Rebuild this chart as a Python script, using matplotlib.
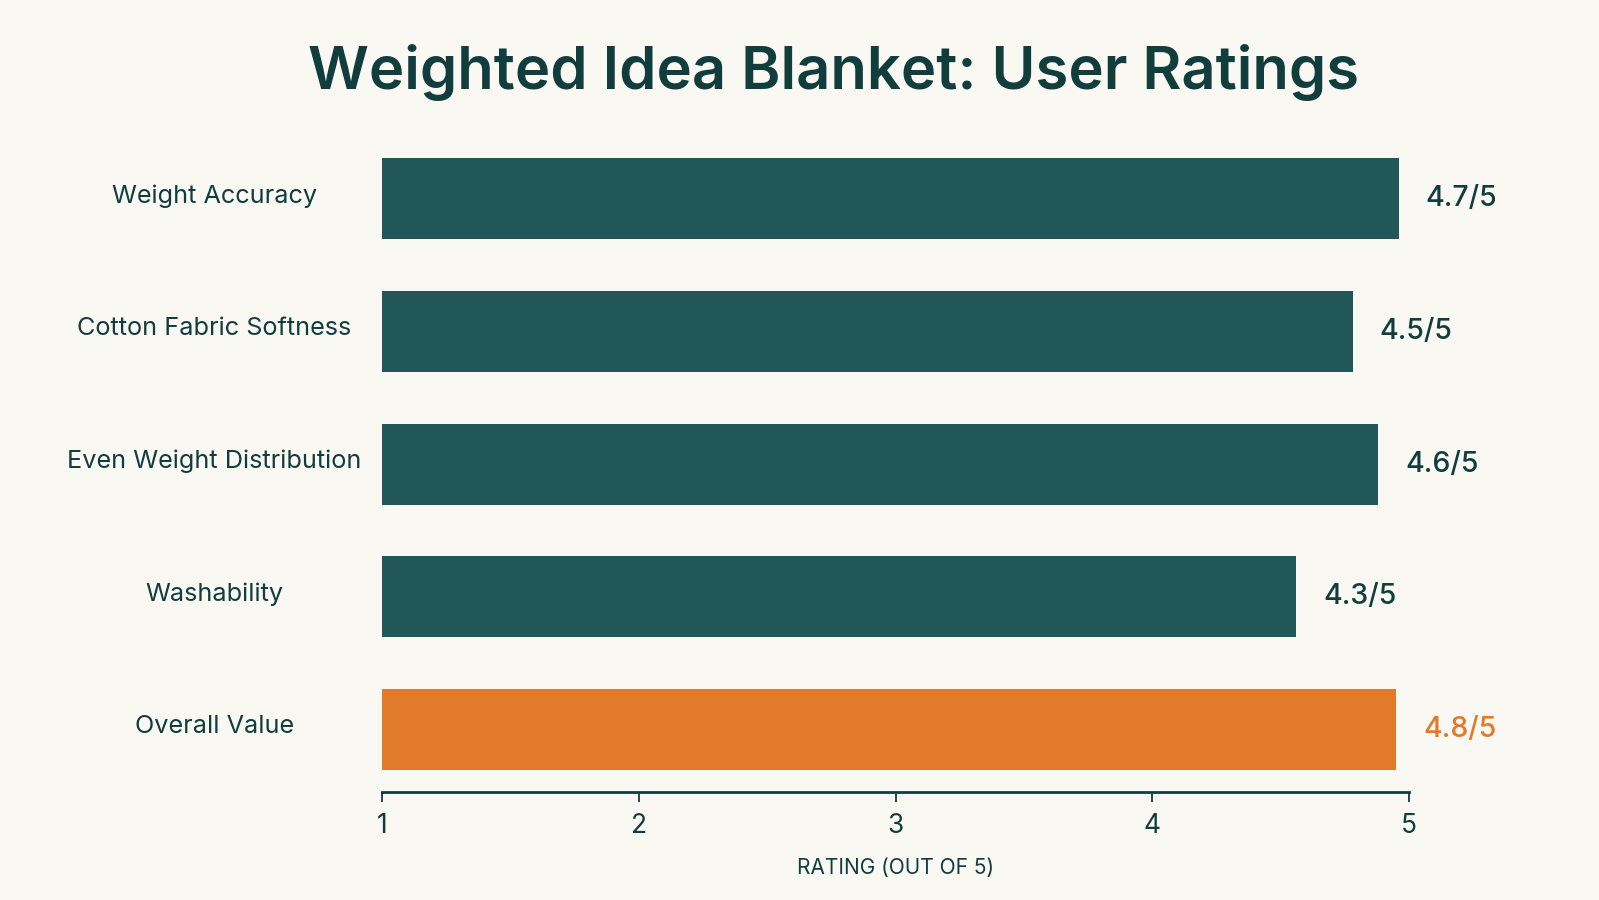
import matplotlib.pyplot as plt
from matplotlib.transforms import blended_transform_factory

# data
categories = ["Weight Accuracy", "Cotton Fabric Softness", "Even Weight Distribution",
              "Washability", "Overall Value"]
bar_ends = [4.96, 4.78, 4.88, 4.56, 4.95]   # bar lengths as drawn in the picture
ratings = ["4.7/5", "4.5/5", "4.6/5", "4.3/5", "4.8/5"]
ticks = [1, 2, 3, 4, 5]

BG = "#FAF8F2"
TEAL = "#22575A"
ORANGE = "#E27A2C"
TEXT = "#123D3D"

plt.rcParams['font.family'] = ['Inter', 'DejaVu Sans']

fig = plt.figure(figsize=(15.99, 9), dpi=100, facecolor=BG)
ax = fig.add_axes([0.2392, 0.12, 0.642, 0.748])
ax.set_facecolor(BG)

colors = [TEAL] * 4 + [ORANGE]
ypos = list(range(len(categories)))
ax.barh(ypos, [e - 1 for e in bar_ends], left=1, height=0.61, color=colors)

ax.set_xlim(1, 5)
ax.set_ylim(4.47, -0.6)

for s in ["top", "right", "left"]:
    ax.spines[s].set_visible(False)
ax.spines["bottom"].set_color(TEXT)
ax.spines["bottom"].set_linewidth(2)

ax.set_yticks([])
ax.set_xticks(ticks)
ax.set_xticklabels([str(t) for t in ticks])
ax.tick_params(axis="x", length=7, width=1.3, color=TEXT, labelcolor=TEXT,
               labelsize=19, pad=8)
ax.set_xlabel("RATING (OUT OF 5)", fontsize=15, color=TEXT, labelpad=14)

# category labels on the left, centered
trans = blended_transform_factory(ax.transAxes, ax.transData)
for i, cat in enumerate(categories):
    ax.text(-0.164, i - 0.02, cat, transform=trans, ha="center", va="center",
            fontsize=18.2, color=TEXT)

# value labels
for i, (e, r) in enumerate(zip(bar_ends, ratings)):
    c = ORANGE if i == len(categories) - 1 else TEXT
    ax.text(e + 0.105, i, r, ha="left", va="center", fontsize=20.5,
            color=c, fontweight="medium")

fig.text(0.521, 0.901, "Weighted Idea Blanket: User Ratings", ha="center",
         va="baseline", fontsize=43, fontweight="semibold", color=TEXT)

fig.savefig("out.png", dpi=100, facecolor=BG)
